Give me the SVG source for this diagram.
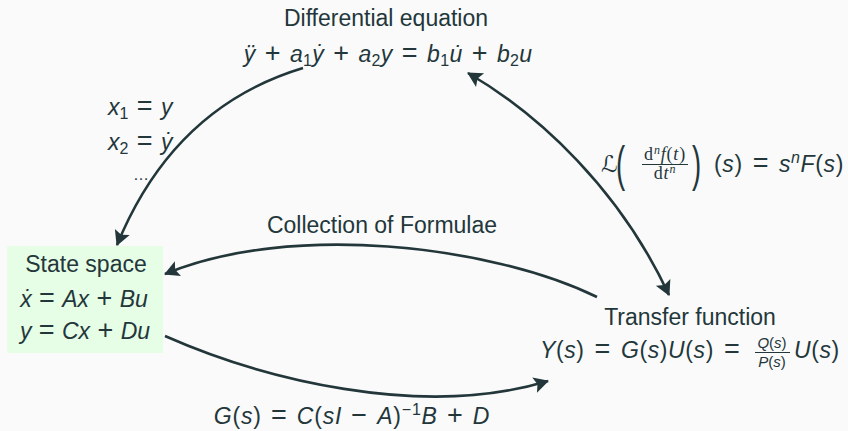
<svg xmlns="http://www.w3.org/2000/svg" width="848" height="431" viewBox="0 0 848 431">
<style>
text{font-family:"Liberation Sans","DejaVu Sans",sans-serif;fill:#23373b;font-size:23px}
.i{font-style:italic}
.sub{font-size:16px}
.sm{font-size:15px}
.xs{font-size:12px}
.op{font-size:27px}
.m{word-spacing:2px}
.fr{font-family:"Liberation Serif","DejaVu Serif",serif;font-size:18px;letter-spacing:0.8px}
.c{stroke:#23373b;stroke-width:2.6;fill:none}
</style>
<defs>
<marker id="ah" markerUnits="userSpaceOnUse" markerWidth="20" markerHeight="20" viewBox="-16 -10 20 20" refX="0" refY="0" orient="auto-start-reverse">
<path d="M1,0 L-14,-8 L-11,0 L-14,8 Z" fill="#23373b"/>
</marker>
</defs>
<rect width="848" height="431" fill="#fafafa"/>
<g id="connectors">
<path class="c" d="M303,68 C230,90 160,140 117,245" marker-end="url(#ah)"/>
<path class="c" d="M468,73 C540,115 620,190 669,295" marker-start="url(#ah)" marker-end="url(#ah)"/>
<path class="c" d="M597,297 C490,245 290,222 165,274" marker-end="url(#ah)"/>
<path class="c" d="M165,336 C260,378 420,420 548,381" marker-end="url(#ah)"/>
</g>
<g id="diffeq">
<text x="386" y="26" text-anchor="middle">Differential equation</text>
<text x="388" y="62" text-anchor="middle" xml:space="preserve" style="word-spacing:2.5px;letter-spacing:0.3px"><tspan class="i">ÿ</tspan> <tspan class="op">+</tspan> <tspan class="i">a</tspan><tspan class="sub" dy="4">1</tspan><tspan class="i" dy="-4">ẏ</tspan> <tspan class="op">+</tspan> <tspan class="i">a</tspan><tspan class="sub" dy="4">2</tspan><tspan class="i" dy="-4">y</tspan> <tspan class="op">=</tspan> <tspan class="i">b</tspan><tspan class="sub" dy="4">1</tspan><tspan class="i" dy="-4">u̇</tspan> <tspan class="op">+</tspan> <tspan class="i">b</tspan><tspan class="sub" dy="4">2</tspan><tspan class="i" dy="-4">u</tspan></text>
</g>
<g id="statespace">
<rect x="7" y="246" width="156" height="107" fill="#e6fde6"/>
<text x="86" y="272" text-anchor="middle">State space</text>
<text x="84" y="307" text-anchor="middle" xml:space="preserve" style="word-spacing:1px"><tspan class="i">ẋ</tspan> <tspan class="op">=</tspan> <tspan class="i">Ax</tspan> <tspan class="op">+</tspan> <tspan class="i">Bu</tspan></text>
<text x="85" y="339" text-anchor="middle" xml:space="preserve" style="word-spacing:1px"><tspan class="i">y</tspan> <tspan class="op">=</tspan> <tspan class="i">Cx</tspan> <tspan class="op">+</tspan> <tspan class="i">Du</tspan></text>
</g>
<g id="transfer">
<text x="690" y="325" text-anchor="middle">Transfer function</text>
<text x="540" y="358" xml:space="preserve" style="word-spacing:3px;letter-spacing:0.6px"><tspan class="i">Y</tspan>(<tspan class="i">s</tspan>) <tspan class="op">=</tspan> <tspan class="i">G</tspan>(<tspan class="i">s</tspan>)<tspan class="i">U</tspan>(<tspan class="i">s</tspan>) <tspan class="op">=</tspan></text>
<text x="772" y="348" text-anchor="middle" class="sm"><tspan class="i">Q</tspan>(<tspan class="i">s</tspan>)</text>
<line x1="755" y1="352.5" x2="790" y2="352.5" stroke="#23373b" stroke-width="1"/>
<text x="772" y="367" text-anchor="middle" class="sm"><tspan class="i">P</tspan>(<tspan class="i">s</tspan>)</text>
<text x="794" y="358" style="letter-spacing:0.6px"><tspan class="i">U</tspan>(<tspan class="i">s</tspan>)</text>
</g>
<g id="label-states">
<text x="108" y="115" xml:space="preserve" class="m"><tspan class="i">x</tspan><tspan class="sub" dy="4">1</tspan><tspan dy="-4"> </tspan><tspan class="op">=</tspan> <tspan class="i">y</tspan></text>
<text x="108" y="150" xml:space="preserve" class="m"><tspan class="i">x</tspan><tspan class="sub" dy="4">2</tspan><tspan dy="-4"> </tspan><tspan class="op">=</tspan> <tspan class="i">ẏ</tspan></text>
<text x="141" y="180" text-anchor="middle" style="font-size:16px">…</text>
</g>
<g id="label-laplace">
<text x="601" y="172" font-family="DejaVu Sans" class="i">ℒ</text>
<text transform="translate(616,181) scale(0.55,1)" style="font-size:50px">(</text>
<text x="665" y="160" text-anchor="middle" class="fr">d<tspan class="i xs" dy="-6">n</tspan><tspan class="i" dy="6">f</tspan>(<tspan class="i">t</tspan>)</text>
<line x1="642" y1="164.5" x2="688" y2="164.5" stroke="#23373b" stroke-width="1"/>
<text x="665" y="179" text-anchor="middle" class="fr">d<tspan class="i">t</tspan><tspan class="i xs" dy="-6">n</tspan></text>
<text transform="translate(692,181) scale(0.55,1)" style="font-size:50px">)</text>
<text x="714" y="172" xml:space="preserve" style="word-spacing:3px;letter-spacing:0.6px">(<tspan class="i">s</tspan>) <tspan class="op">=</tspan> <tspan class="i">s</tspan><tspan class="i sub" dy="-9">n</tspan><tspan class="i" dy="9">F</tspan>(<tspan class="i">s</tspan>)</text>
</g>
<g id="label-formulae">
<text x="382" y="233" text-anchor="middle">Collection of Formulae</text>
</g>
<g id="label-gs">
<text x="352" y="424" text-anchor="middle" xml:space="preserve" style="word-spacing:2px;letter-spacing:0.8px"><tspan class="i">G</tspan>(<tspan class="i">s</tspan>) <tspan class="op">=</tspan> <tspan class="i">C</tspan>(<tspan class="i">sI</tspan> <tspan class="op">−</tspan> <tspan class="i">A</tspan>)<tspan class="sub" dy="-9">−1</tspan><tspan class="i" dy="9">B</tspan> <tspan class="op">+</tspan> <tspan class="i">D</tspan></text>
</g>
</svg>
